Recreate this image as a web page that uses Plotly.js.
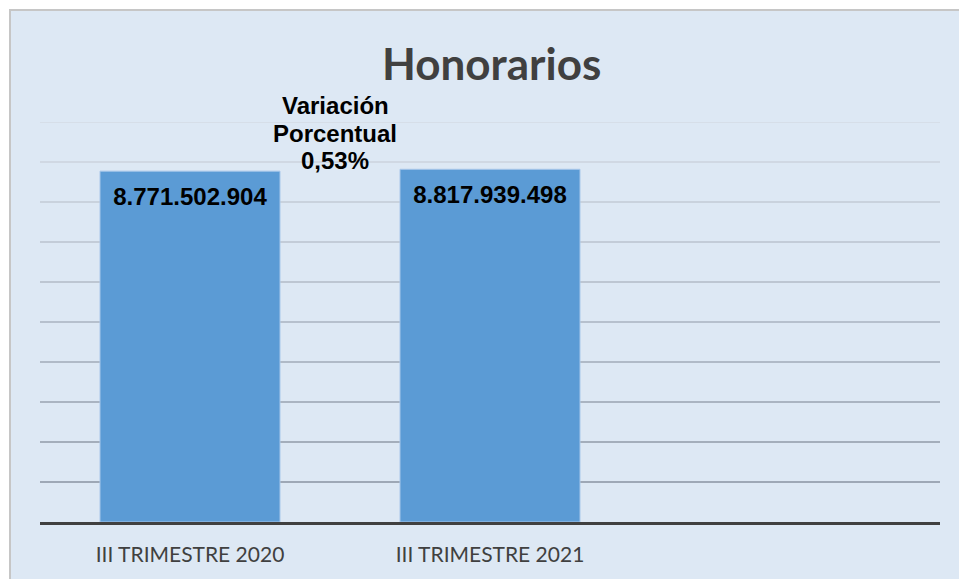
<!DOCTYPE html>
<html>
<head>
<meta charset="utf-8">
<script src="https://cdn.plot.ly/plotly-3.0.1.min.js"></script>
<style>
  html, body { margin: 0; padding: 0; background: #ffffff; width: 959px; height: 579px; overflow: hidden; }
  #chart { position: absolute; left: 9px; top: 9px; width: 948px; height: 568px;
           border-left: 2px solid #c6c6c6; border-top: 2px solid #c6c6c6; }
</style>
</head>
<body>
<div id="chart"></div>
<script>
// ---- data ----
const categories = ["III TRIMESTRE 2020", "III TRIMESTRE 2021"];
const values = [8771502904, 8817939498];
const valueLabels = ["8.771.502.904", "8.817.939.498"];
const chartTitle = "Honorarios";
const variationLines = ["Variación", "Porcentual", "0,53%"];
const gridValues = [1e9, 2e9, 3e9, 4e9, 5e9, 6e9, 7e9, 8e9, 9e9, 10e9];

// ---- styling helpers ----
function mix(c1, c2, t) {
  const a = c1.match(/\w\w/g).map(h => parseInt(h, 16));
  const b = c2.match(/\w\w/g).map(h => parseInt(h, 16));
  const r = a.map((v, i) => Math.round(v + (b[i] - v) * t));
  return "rgb(" + r.join(",") + ")";
}
const yRange = [0, 10e9];
const xRange = [-0.5, 2.5];

const traces = [
  {
    type: "bar",
    x: categories,
    y: values,
    width: 0.6,
    marker: { color: "#5b9bd5", line: { color: "#a8c7ea", width: 1 } },
    hoverinfo: "skip",
    cliponaxis: false
  },
  {
    type: "scatter",
    mode: "markers+text",
    x: categories,
    y: values,
    text: valueLabels,
    textposition: "bottom center",
    textfont: { family: "Liberation Sans, Arial, sans-serif", size: 24, color: "#000000", weight: "bold" },
    marker: { size: 24, opacity: 0 },
    hoverinfo: "skip",
    cliponaxis: false
  }
];

// gridlines: darker near the bottom, lighter towards the top
const topColor = "d3dbe5";
const bottomColor = "8893a2";
const shapes = gridValues.map((v, i) => {
  const t = i / (gridValues.length - 1);
  return {
    type: "line", layer: "below",
    xref: "paper", x0: 0, x1: 1,
    yref: "y", y0: v, y1: v,
    line: { color: mix(bottomColor, topColor, t), width: 1.5 }
  };
});

const annotations = variationLines.map((line, i) => ({
  xref: "x", yref: "y",
  x: 0.5, y: 9.725e9,
  xshift: -5,
  yshift: -27.5 * (i - 1),
  text: "<b>" + line + "</b>",
  showarrow: false,
  xanchor: "center", yanchor: "middle",
  font: { family: "Liberation Sans, Arial, sans-serif", size: 24, color: "#000000" }
}));

const layout = {
  width: 948,
  height: 568,
  paper_bgcolor: "#dde8f4",
  plot_bgcolor: "rgba(0,0,0,0)",
  margin: { l: 29, r: 19, t: 111, b: 57 },
  showlegend: false,
  title: {
    text: "<b>" + chartTitle + "</b>",
    font: { family: "Lato, 'Open Sans', sans-serif", size: 44, color: "#404040" },
    x: 0.507, xanchor: "center",
    y: 0.905, yanchor: "middle"
  },
  xaxis: {
    type: "category",
    range: xRange,
    showgrid: false,
    showline: true,
    linecolor: "#404040",
    linewidth: 3,
    ticks: "outside",
    ticklen: 12,
    tickcolor: "rgba(0,0,0,0)",
    tickfont: { family: "Lato, 'Open Sans', sans-serif", size: 21, color: "#404040" },
    fixedrange: true
  },
  yaxis: {
    range: yRange,
    showgrid: false,
    zeroline: false,
    showticklabels: false,
    fixedrange: true
  },
  shapes: shapes,
  annotations: annotations
};

Plotly.newPlot("chart", traces, layout, { displayModeBar: false, staticPlot: true });
</script>
</body>
</html>
